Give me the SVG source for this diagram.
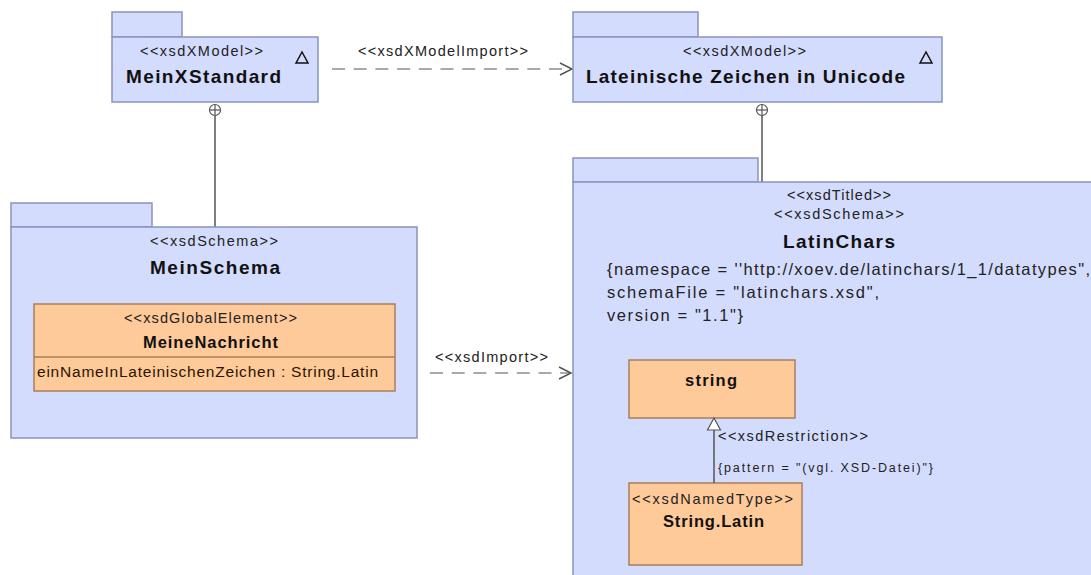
<svg xmlns="http://www.w3.org/2000/svg" width="1091" height="575" viewBox="0 0 1091 575">
<defs>
<style>
.pkg{fill:#D4DCFE;stroke:#8A93BF;stroke-width:1.5}
.cls{fill:#FFCA99;stroke:#A87F5A;stroke-width:1.5}
.st{font-family:"Liberation Sans",Arial,sans-serif;font-size:14.5px;fill:#222}
.tt{font-family:"Liberation Sans",Arial,sans-serif;font-size:19px;font-weight:bold;fill:#111}
.ct{font-family:"Liberation Sans",Arial,sans-serif;font-size:16.5px;font-weight:bold;fill:#111}
.tv{font-family:"Liberation Sans",Arial,sans-serif;font-size:16.5px;fill:#222}
.at{font-family:"Liberation Sans",Arial,sans-serif;font-size:15.5px;fill:#2b1400}
.sm{font-family:"Liberation Sans",Arial,sans-serif;font-size:12.5px;fill:#222}
.ln{fill:none;stroke:#555;stroke-width:1.5}
.dash{fill:none;stroke:#555;stroke-width:1.2;stroke-dasharray:13 8.7}
.ico{fill:none;stroke:#111;stroke-width:1.5}
</style>
</defs>

<g id="connectors">
  <line class="ln" x1="215" y1="116" x2="215" y2="227"/>
  <circle cx="215" cy="110" r="5.5" fill="#fff" stroke="#555" stroke-width="1.2"/>
  <line x1="209.5" y1="110" x2="220.5" y2="110" stroke="#555" stroke-width="1.2"/>
  <line x1="215" y1="104.5" x2="215" y2="115.5" stroke="#555" stroke-width="1.2"/>

  <line class="ln" x1="762" y1="116" x2="762" y2="182"/>
  <circle cx="762" cy="110" r="5.5" fill="#fff" stroke="#555" stroke-width="1.2"/>
  <line x1="756.5" y1="110" x2="767.5" y2="110" stroke="#555" stroke-width="1.2"/>
  <line x1="762" y1="104.5" x2="762" y2="115.5" stroke="#555" stroke-width="1.2"/>

  <line class="dash" x1="332" y1="69" x2="571" y2="69"/>
  <polyline class="ln" points="560,63 572,69 560,75" stroke-width="1.2"/>
  <text class="st" x="358" y="56" textLength="170" lengthAdjust="spacing">&lt;&lt;xsdXModelImport&gt;&gt;</text>

  <line class="dash" x1="430" y1="373" x2="570" y2="373"/>
  <polyline class="ln" points="559,367 571,373 559,379" stroke-width="1.2"/>
  <text class="st" x="435" y="362" textLength="113" lengthAdjust="spacing">&lt;&lt;xsdImport&gt;&gt;</text>
</g>

<g id="MeinXStandard">
  <rect class="pkg" x="112" y="12" width="70" height="25"/>
  <rect class="pkg" x="112" y="37" width="206" height="65"/>
  <text class="st" x="140" y="56" textLength="123" lengthAdjust="spacing">&lt;&lt;xsdXModel&gt;&gt;</text>
  <text class="tt" x="126" y="83" textLength="155" lengthAdjust="spacing">MeinXStandard</text>
  <polygon class="ico" points="302,52 296,63 308,63"/>
</g>

<g id="LateinischeZeichen">
  <rect class="pkg" x="573" y="12" width="125" height="25"/>
  <rect class="pkg" x="573" y="37" width="369" height="65"/>
  <text class="st" x="683" y="56" textLength="123" lengthAdjust="spacing">&lt;&lt;xsdXModel&gt;&gt;</text>
  <text class="tt" x="586" y="83" textLength="319" lengthAdjust="spacing">Lateinische Zeichen in Unicode</text>
  <polygon class="ico" points="926,52 920,63 932,63"/>
</g>

<g id="MeinSchema">
  <rect class="pkg" x="11" y="203" width="141" height="24"/>
  <rect class="pkg" x="11" y="227" width="406" height="211"/>
  <text class="st" x="150" y="246" textLength="128" lengthAdjust="spacing">&lt;&lt;xsdSchema&gt;&gt;</text>
  <text class="tt" x="150" y="274" textLength="130" lengthAdjust="spacing">MeinSchema</text>
</g>

<g id="MeineNachricht">
  <rect class="cls" x="34" y="304" width="361" height="87"/>
  <line x1="34" y1="357" x2="395" y2="357" stroke="#A87F5A" stroke-width="1.5"/>
  <text class="st" x="124" y="323" textLength="173" lengthAdjust="spacing">&lt;&lt;xsdGlobalElement&gt;&gt;</text>
  <text class="ct" x="143" y="348" textLength="135" lengthAdjust="spacing">MeineNachricht</text>
  <text class="at" x="37" y="377" textLength="341" lengthAdjust="spacing">einNameInLateinischenZeichen : String.Latin</text>
</g>

<g id="LatinChars">
  <rect class="pkg" x="573" y="158" width="185" height="24"/>
  <rect class="pkg" x="573" y="182" width="530" height="410"/>
  <text class="st" x="787" y="200" textLength="104" lengthAdjust="spacing">&lt;&lt;xsdTitled&gt;&gt;</text>
  <text class="st" x="774" y="219" textLength="130" lengthAdjust="spacing">&lt;&lt;xsdSchema&gt;&gt;</text>
  <text class="tt" x="783" y="248" textLength="112" lengthAdjust="spacing">LatinChars</text>
  <text class="tv" x="607" y="275" textLength="483" lengthAdjust="spacing">{namespace = ''http://xoev.de/latinchars/1_1/datatypes",</text>
  <text class="tv" x="607" y="298" textLength="272" lengthAdjust="spacing">schemaFile = "latinchars.xsd",</text>
  <text class="tv" x="607" y="321" textLength="136" lengthAdjust="spacing">version = "1.1"}</text>
</g>

<g id="string">
  <rect class="cls" x="629" y="360" width="166" height="58"/>
  <text class="ct" x="685" y="386" textLength="52" lengthAdjust="spacing">string</text>
</g>

<g id="StringLatin">
  <rect class="cls" x="629" y="483" width="173" height="82"/>
  <text class="st" x="632" y="504" textLength="161" lengthAdjust="spacing">&lt;&lt;xsdNamedType&gt;&gt;</text>
  <text class="ct" x="663" y="527" textLength="101" lengthAdjust="spacing">String.Latin</text>
</g>

<g id="restriction">
  <line class="ln" x1="714" y1="483" x2="714" y2="430"/>
  <polygon points="714,418 707.5,430 720.5,430" fill="#fff" stroke="#555" stroke-width="1.2"/>
  <text class="st" x="718" y="441" textLength="150" lengthAdjust="spacing">&lt;&lt;xsdRestriction&gt;&gt;</text>
  <text class="sm" x="718" y="472" textLength="215" lengthAdjust="spacing">{pattern = "(vgl. XSD-Datei)"}</text>
</g>
</svg>
